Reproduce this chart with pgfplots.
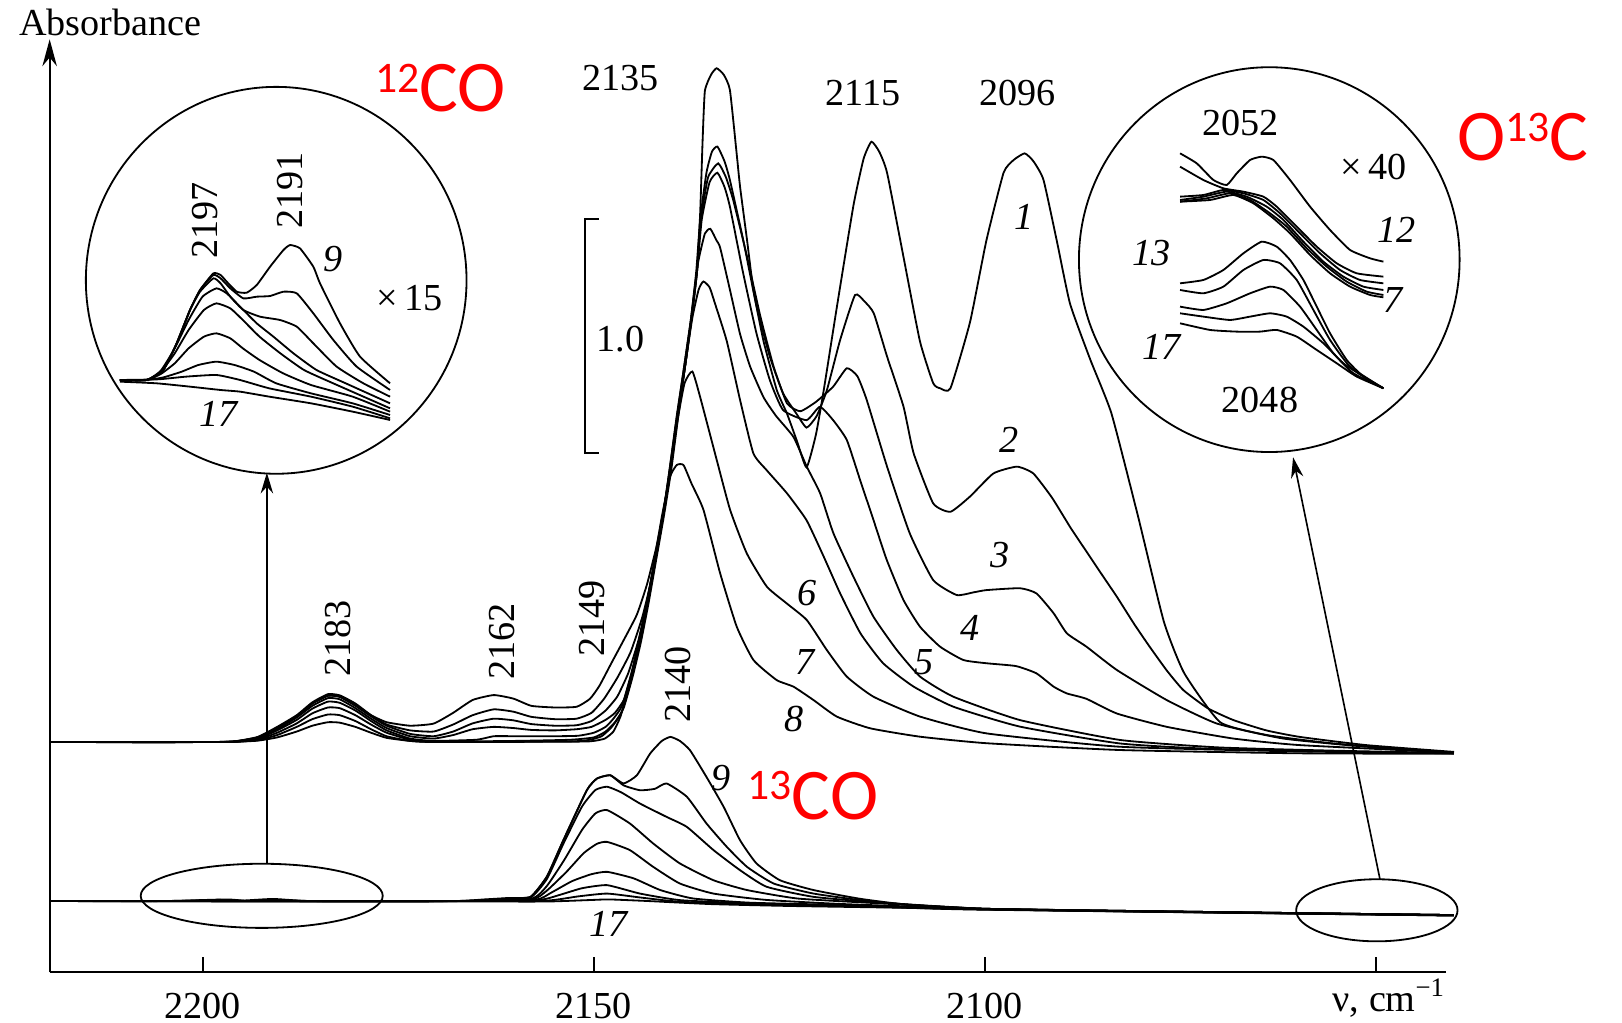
\documentclass[border=0pt]{standalone}
\usepackage{pgfplots}
\pgfplotsset{compat=1.18}
\usepackage{fontspec}
\setmainfont{Liberation Serif}
\newfontfamily\redfont{Carlito}
\usetikzlibrary{arrows.meta}
\newcommand{\lbl}{\fontsize{10.5}{12}\selectfont}
\begin{document}
\begin{tikzpicture}
\useasboundingbox (0,0) rectangle (15.68,9.88);
\pgfplotsset{spec/.style={black, line width=0.5pt, smooth, tension=0.3, mark=none}}
% ---------------- main axis ----------------
\begin{axis}[
  at={(0.48cm,0.48cm)}, anchor=south west, scale only axis,
  width=13.5cm, height=8.95cm,
  xmin=2041, xmax=2219.6, ymin=0, ymax=3.96, x dir=reverse,
  axis x line*=bottom, axis y line=none,
  x axis line style={line width=0.6pt},
  xtick={2050,2100,2150,2200},
  xticklabels={,\textrm{2100},\textrm{2150},\textrm{2200}},
  ytick=\empty,
  tick align=inside, major tick length=0.15cm,
  xtick style={black, line width=0.6pt},
  xticklabel style={font=\lbl, yshift=-0.8mm},
  clip=false,
]
% curve 1
\addplot[spec] coordinates {(2219.6,0.985) (2200,0.985) (2196,0.988) (2193,1.005) (2190.5,1.045) (2188,1.095) (2186,1.15) (2184,1.183) (2182.5,1.18) (2180.5,1.145) (2178.5,1.1) (2176.5,1.07) (2173.5,1.055) (2170.5,1.064) (2168,1.11) (2165.5,1.165) (2162.8,1.186) (2160.3,1.171) (2158,1.14) (2155,1.133) (2152.2,1.136) (2150.5,1.17) (2149.3,1.225) (2147.8,1.32) (2146.2,1.42) (2144.5,1.53) (2143.2,1.66) (2142.0,1.82) (2141.0,1.99) (2140.2,2.16) (2139.2,2.40) (2138.3,2.60) (2137.5,2.80) (2136.8,3.00) (2136.4,3.25) (2136.1,3.55) (2135.8,3.77) (2135.0,3.84) (2134.3,3.867) (2133.4,3.84) (2132.6,3.774) (2131.7,3.49) (2131.3,3.36) (2130.4,3.13) (2129.6,2.92) (2128.3,2.70) (2126.6,2.49) (2125.3,2.39) (2124.0,2.27) (2122.8,2.16) (2121.6,2.30) (2120.6,2.49) (2118.9,2.85) (2116.8,3.28) (2115.5,3.48) (2114.5,3.553) (2113.5,3.51) (2112.5,3.42) (2110.4,3.06) (2108.3,2.70) (2106.6,2.52) (2105.7,2.498) (2104.4,2.498) (2101.9,2.78) (2099.8,3.13) (2097.6,3.42) (2096.3,3.475) (2094.9,3.503) (2093.8,3.47) (2092.5,3.39) (2090.8,3.13) (2089.1,2.86) (2086.5,2.62) (2083.8,2.39) (2080.4,1.95) (2077.1,1.50) (2074.5,1.28) (2069.9,1.07) (2063.9,1.015) (2055.4,0.979) (2040,0.936)};
% curve 2
\addplot[spec] coordinates {(2219.6,0.985) (2200,0.985) (2196,0.988) (2193,1.007) (2190.5,1.05) (2188,1.10) (2186,1.155) (2184,1.19) (2182.5,1.185) (2180.5,1.15) (2178.5,1.10) (2176.5,1.06) (2173.5,1.035) (2170.5,1.03) (2168,1.06) (2165.5,1.10) (2162.8,1.125) (2160.3,1.115) (2158,1.093) (2155,1.083) (2152.2,1.085) (2150.3,1.11) (2148.7,1.17) (2147,1.26) (2145.3,1.37) (2143.8,1.52) (2142.5,1.70) (2141.3,1.92) (2140.4,2.13) (2139.4,2.38) (2138.5,2.58) (2137.6,2.79) (2136.9,3.0) (2136.4,3.22) (2135.6,3.42) (2134.9,3.51) (2134.2,3.532) (2133.3,3.47) (2132.6,3.389) (2130.9,3.133) (2129.2,2.85) (2127.5,2.634) (2125.8,2.477) (2124.1,2.39) (2122.8,2.33) (2121.5,2.38) (2120.2,2.49) (2118.5,2.705) (2116.6,2.897) (2115.4,2.87) (2114.2,2.819) (2112.5,2.634) (2110.4,2.42) (2109.1,2.22) (2106.6,2.006) (2104.4,1.970) (2101.9,2.035) (2098.9,2.134) (2095.9,2.163) (2093.8,2.134) (2091.4,2.03) (2089,1.90) (2087,1.80) (2085,1.70) (2083.1,1.606) (2080.9,1.49) (2078.9,1.392) (2076.7,1.29) (2074.6,1.207) (2071.5,1.13) (2068.2,1.079) (2064,1.035) (2059.7,1.007) (2051.2,0.972) (2040,0.943)};
% curve 3
\addplot[spec] coordinates {(2219.6,0.985) (2200,0.985) (2196,0.987) (2193,1.004) (2190.5,1.045) (2188,1.095) (2186,1.15) (2184,1.183) (2182.5,1.178) (2180.5,1.14) (2178.5,1.095) (2176.5,1.055) (2173.5,1.02) (2170.5,1.01) (2168,1.03) (2165.5,1.065) (2162.8,1.085) (2160.3,1.078) (2158,1.062) (2155,1.055) (2152.2,1.057) (2150.3,1.075) (2148.5,1.12) (2147,1.18) (2145.6,1.28) (2144.3,1.42) (2143.1,1.60) (2142.0,1.80) (2141.0,1.98) (2140.2,2.16) (2139.2,2.40) (2138.3,2.60) (2137.5,2.80) (2136.8,3.0) (2136.3,3.22) (2135.4,3.40) (2134.1,3.46) (2133.1,3.40) (2132.15,3.30) (2130.4,3.06) (2128.7,2.805) (2127.0,2.59) (2125.3,2.434) (2123.6,2.40) (2121.6,2.44) (2119.4,2.505) (2117.65,2.584) (2116.3,2.55) (2115.1,2.448) (2112.5,2.163) (2109.6,1.878) (2106.6,1.678) (2103.6,1.614) (2101.5,1.625) (2099.8,1.635) (2095.5,1.643) (2093.4,1.621) (2091.2,1.536) (2089.5,1.45) (2087,1.393) (2083.1,1.293) (2076.7,1.164) (2070.3,1.064) (2061.8,1.0) (2051.2,0.965) (2040,0.94)};
% curve 4
\addplot[spec] coordinates {(2219.6,0.985) (2200,0.985) (2196,0.987) (2193,1.003) (2190.5,1.04) (2188,1.09) (2186,1.14) (2184,1.173) (2182.5,1.168) (2180.5,1.13) (2178.5,1.085) (2176.5,1.045) (2173.5,1.01) (2170.5,1.0) (2168,1.015) (2165.5,1.04) (2162.8,1.05) (2160.3,1.045) (2158,1.037) (2155,1.035) (2152.2,1.04) (2150.3,1.05) (2148.5,1.08) (2147.3,1.11) (2146.1,1.17) (2145,1.30) (2144,1.45) (2143,1.62) (2142,1.80) (2141,1.98) (2140.2,2.16) (2139.2,2.40) (2138.3,2.60) (2137.5,2.80) (2136.8,3.0) (2136.2,3.22) (2135.2,3.38) (2134.2,3.42) (2133.3,3.36) (2132.6,3.275) (2130.9,2.99) (2129.2,2.733) (2127.5,2.534) (2125.8,2.405) (2122.8,2.362) (2121.1,2.419) (2119.4,2.362) (2117.65,2.277) (2115.95,2.106) (2114.24,1.935) (2112.54,1.764) (2110.41,1.593) (2108.28,1.478) (2105.72,1.393) (2102.74,1.336) (2099.75,1.322) (2096,1.31) (2093.4,1.279) (2091.2,1.222) (2089.5,1.193) (2087,1.17) (2083.1,1.107) (2076.7,1.05) (2068.2,1.0) (2059.7,0.972) (2040,0.94)};
% curve 5
\addplot[spec] coordinates {(2219.6,0.985) (2200,0.985) (2196,0.987) (2193,1.0) (2190.5,1.035) (2188,1.08) (2186,1.128) (2184,1.158) (2182.5,1.153) (2180.5,1.12) (2178.5,1.075) (2176.5,1.035) (2173.5,1.0) (2170.5,0.99) (2165,0.995) (2162.8,1.01) (2160,1.01) (2155,1.01) (2152,1.012) (2150,1.025) (2148.5,1.05) (2147.5,1.085) (2146.4,1.14) (2145.2,1.28) (2144.2,1.42) (2143.2,1.58) (2142.2,1.76) (2141.2,1.95) (2140.4,2.13) (2139.4,2.37) (2138.5,2.58) (2137.6,2.79) (2136.7,3.03) (2135.8,3.16) (2135.1,3.18) (2134.3,3.13) (2133.85,3.10) (2132.6,2.92) (2131.3,2.73) (2130,2.59) (2128.3,2.46) (2126.7,2.38) (2124.47,2.29) (2122.77,2.163) (2121.06,2.049) (2119.36,1.878) (2116.8,1.692) (2114.24,1.521) (2111.26,1.379) (2108.28,1.265) (2104.02,1.179) (2095.49,1.079) (2082.7,0.994) (2070,0.962) (2055,0.948) (2040,0.938)};
% curve 6
\addplot[spec] coordinates {(2219.6,0.985) (2200,0.985) (2196,0.986) (2193,0.996) (2190.5,1.025) (2188,1.065) (2186,1.108) (2184,1.133) (2182.5,1.13) (2180.5,1.10) (2178.5,1.06) (2176.5,1.025) (2173.5,0.995) (2170.5,0.987) (2160,0.99) (2153,0.995) (2150,1.005) (2148.5,1.03) (2147.3,1.07) (2146.2,1.13) (2145,1.27) (2144,1.41) (2143,1.58) (2142,1.77) (2141,1.96) (2140.1,2.15) (2139.2,2.38) (2138.3,2.6) (2137.4,2.80) (2136.6,2.92) (2136.0,2.955) (2135.2,2.93) (2134.5,2.86) (2133,2.70) (2131.3,2.448) (2129.6,2.22) (2127.9,2.148) (2125.3,2.049) (2122.8,1.934) (2120.6,1.778) (2118.5,1.621) (2115.9,1.45) (2113.0,1.322) (2109.1,1.222) (2104.0,1.136) (2095.5,1.051) (2082.7,0.979) (2070,0.955) (2040,0.937)};
% curve 7
\addplot[spec] coordinates {(2219.6,0.985) (2200,0.985) (2196,0.986) (2193,0.993) (2190.5,1.015) (2188,1.05) (2186,1.083) (2184,1.103) (2182.5,1.10) (2180.5,1.075) (2178.5,1.04) (2176.5,1.01) (2173.5,0.99) (2170,0.985) (2153,0.988) (2150.5,0.995) (2149,1.01) (2147.7,1.05) (2146.5,1.11) (2145.3,1.24) (2144.3,1.38) (2143.3,1.55) (2142.3,1.73) (2141.3,1.93) (2140.3,2.13) (2139.3,2.36) (2138.4,2.52) (2137.4,2.57) (2136.4,2.46) (2134.28,2.191) (2132.57,1.978) (2130.44,1.792) (2127.88,1.65) (2125.33,1.578) (2122.77,1.507) (2120.21,1.379) (2117.65,1.265) (2114.24,1.179) (2108.28,1.094) (2099.75,1.022) (2082.7,0.965) (2060,0.945) (2040,0.937)};
% curve 8
\addplot[spec] coordinates {(2219.6,0.985) (2200,0.985) (2196,0.986) (2193,0.991) (2190.5,1.005) (2188,1.03) (2186,1.055) (2184,1.07) (2182.5,1.068) (2180.5,1.05) (2178.5,1.025) (2176.5,1.003) (2173.5,0.99) (2170,0.985) (2152,0.987) (2150,0.99) (2148.6,1.0) (2147.5,1.03) (2146.6,1.094) (2145.5,1.22) (2144.5,1.379) (2143.4,1.55) (2142.4,1.735) (2141.3,1.95) (2140.25,2.12) (2139.4,2.17) (2138.54,2.17) (2137.5,2.09) (2135.98,1.978) (2133.85,1.707) (2131.72,1.478) (2129.59,1.336) (2126.61,1.25) (2124.47,1.222) (2121.92,1.165) (2118.93,1.094) (2114.67,1.044) (2108.28,1.008) (2099.75,0.98) (2082.7,0.951) (2060,0.937) (2040,0.935)};
% ---- 13CO curves 9-17 ----
\addplot[spec] coordinates {(2219.6,0.305) (2205,0.305) (2198,0.31) (2195,0.307) (2191,0.314) (2186,0.305) (2168,0.305) (2164,0.312) (2161,0.318) (2158.1,0.323) (2156,0.41) (2153.9,0.565) (2150.9,0.779) (2149.6,0.829) (2147.9,0.843) (2146.2,0.808) (2144.5,0.843) (2142.8,0.936) (2141.3,0.99) (2140.2,1.007) (2139,0.99) (2137.7,0.95) (2135.6,0.836) (2133.4,0.708) (2131.3,0.565) (2129.2,0.466) (2126.2,0.394) (2121.9,0.352) (2116,0.315) (2110,0.29) (2100,0.272) (2080,0.262) (2040,0.245)};
\addplot[spec] coordinates {(2219.6,0.305) (2205,0.305) (2197,0.312) (2194,0.305) (2190,0.31) (2186,0.305) (2168,0.305) (2164,0.31) (2161,0.316) (2158.1,0.323) (2156,0.41) (2153.9,0.565) (2150.9,0.779) (2149.6,0.829) (2147.9,0.843) (2146.2,0.80) (2144.1,0.779) (2142.2,0.785) (2140.7,0.808) (2138.1,0.751) (2135.6,0.637) (2133.0,0.537) (2130.4,0.451) (2127.0,0.38) (2121.9,0.337) (2115,0.305) (2108,0.285) (2100,0.272) (2080,0.262) (2040,0.245)};
\addplot[spec] coordinates {(2219.6,0.305) (2168,0.305) (2162,0.312) (2158.1,0.32) (2156,0.40) (2153.9,0.55) (2151.5,0.71) (2149.8,0.78) (2148.3,0.794) (2146.5,0.77) (2144.1,0.722) (2140.7,0.665) (2138.1,0.622) (2134.7,0.523) (2131.3,0.437) (2127.9,0.366) (2121.9,0.323) (2114,0.30) (2100,0.272) (2080,0.262) (2040,0.245)};
\addplot[spec] coordinates {(2219.6,0.305) (2166,0.305) (2158,0.315) (2156,0.37) (2153.8,0.48) (2151.5,0.61) (2149.8,0.68) (2148.3,0.694) (2145.4,0.637) (2142.4,0.551) (2139.0,0.466) (2134.7,0.394) (2130.4,0.352) (2124,0.316) (2115,0.298) (2100,0.272) (2080,0.262) (2040,0.245)};
\addplot[spec] coordinates {(2219.6,0.305) (2166,0.305) (2158,0.31) (2156,0.35) (2153.5,0.43) (2151.3,0.51) (2149.6,0.55) (2148.3,0.558) (2145.4,0.523) (2142.4,0.451) (2139.0,0.38) (2134.7,0.337) (2128,0.31) (2118,0.292) (2100,0.271) (2080,0.261) (2040,0.245)};
\addplot[spec] coordinates {(2219.6,0.305) (2166,0.305) (2157.5,0.31) (2155.5,0.34) (2152.8,0.39) (2150.3,0.42) (2148.3,0.43) (2144.9,0.402) (2141.5,0.352) (2137.3,0.316) (2130,0.298) (2118,0.288) (2100,0.27) (2080,0.26) (2040,0.244)};
\addplot[spec] coordinates {(2219.6,0.305) (2166,0.305) (2157,0.31) (2154.5,0.33) (2151.5,0.36) (2148.3,0.373) (2144.1,0.337) (2139,0.309) (2130,0.295) (2115,0.283) (2100,0.27) (2040,0.244)};
\addplot[spec] coordinates {(2219.6,0.305) (2166,0.305) (2156,0.307) (2152,0.325) (2148.3,0.337) (2144,0.32) (2139,0.302) (2130,0.292) (2115,0.281) (2100,0.269) (2040,0.243)};
\addplot[spec] coordinates {(2219.6,0.305) (2166,0.303) (2156,0.303) (2150,0.31) (2148,0.312) (2143,0.305) (2135,0.292) (2125,0.284) (2110,0.276) (2100,0.268) (2040,0.243)};
% scale bar 1.0
\addplot[black, line width=0.6pt, mark=none] coordinates {(2149.4,2.221) (2151.1,2.221) (2151.1,3.221) (2149.4,3.221)};
\end{axis}
% y axis with arrow
\draw[line width=0.6pt, -{Stealth[length=2.6mm,width=1.4mm]}] (0.48,0.48) -- (0.48,9.50);
% ---------------- left inset (x15) ----------------
\begin{axis}[
  at={(0.923cm,5.691cm)}, anchor=south west, scale only axis,
  width=3.091cm, height=1.933cm,
  xmin=2182, xmax=2205, ymin=-1.5, ymax=4.5, x dir=reverse,
  hide axis, clip=false,
]
\addplot[spec] coordinates {(2203.24,0.10) (2201.32,0.10) (2200.12,0.40) (2199.16,1.20) (2198.20,2.20) (2197.48,2.80) (2196.52,3.30) (2196.0,3.25) (2195.56,3.05) (2194.84,2.75) (2194.12,2.72) (2193.40,2.95) (2192.44,3.50) (2191.48,4.0) (2191.0,4.15) (2190.29,4.05) (2189.33,3.50) (2188.85,3.0) (2187.41,1.80) (2185.97,0.80) (2183.81,0.0)};
\addplot[spec] coordinates {(2203.24,0.10) (2201.32,0.10) (2200.12,0.40) (2199.16,1.20) (2198.20,2.20) (2197.48,2.80) (2196.52,3.25) (2196.0,3.15) (2195.3,2.85) (2194.36,2.55) (2193.40,2.60) (2192.44,2.62) (2191.48,2.75) (2190.52,2.70) (2189.33,2.10) (2187.89,1.30) (2186.21,0.50) (2183.81,-0.20)};
\addplot[spec] coordinates {(2203.24,0.10) (2201.32,0.10) (2200.12,0.40) (2199.16,1.20) (2198.20,2.20) (2197.48,2.75) (2196.52,3.15) (2196.0,3.0) (2195.3,2.6) (2194.36,2.20) (2193.16,2.00) (2191.72,1.90) (2190.52,1.70) (2189.33,1.20) (2187.65,0.50) (2185.73,0.0) (2183.81,-0.40)};
\addplot[spec] coordinates {(2203.24,0.10) (2201.32,0.10) (2200.3,0.38) (2199.3,1.05) (2198.3,1.90) (2197.3,2.60) (2196.3,2.85) (2195.56,2.70) (2194.6,2.30) (2193.4,1.80) (2192.2,1.40) (2190.76,0.90) (2189.1,0.40) (2187,0.0) (2183.81,-0.60)};
\addplot[spec] coordinates {(2203.24,0.10) (2201.32,0.10) (2200.3,0.35) (2199.3,0.90) (2198.3,1.60) (2197.2,2.20) (2196.3,2.40) (2195.3,2.25) (2194.4,1.90) (2193.2,1.40) (2191.7,0.90) (2190.0,0.40) (2187.9,0.0) (2183.81,-0.75)};
\addplot[spec] coordinates {(2203.24,0.10) (2201.32,0.10) (2200.3,0.28) (2199.3,0.60) (2198.3,1.05) (2197.2,1.40) (2196.3,1.50) (2195.3,1.35) (2194.4,1.05) (2193.2,0.70) (2191.5,0.30) (2189.5,-0.05) (2186.5,-0.40) (2183.81,-0.85)};
\addplot[spec] coordinates {(2203.24,0.10) (2201.32,0.10) (2200.1,0.18) (2198.8,0.35) (2197.6,0.55) (2196.3,0.65) (2195.0,0.55) (2193.6,0.35) (2192.0,0.0) (2189.5,-0.30) (2186.5,-0.60) (2183.81,-0.95)};
\addplot[spec] coordinates {(2203.24,0.10) (2200.5,0.12) (2198.5,0.20) (2196.3,0.25) (2194.6,0.10) (2192.5,-0.15) (2189.5,-0.40) (2186.5,-0.70) (2183.81,-1.05)};
\addplot[spec] coordinates {(2203.24,0.05) (2200.6,0.00) (2198.2,-0.10) (2196.0,-0.20) (2194.6,-0.25) (2192.5,-0.40) (2189.5,-0.60) (2186.5,-0.85) (2183.81,-1.10)};
\end{axis}
% ---------------- right inset (x40) ----------------
\begin{axis}[
  at={(11.311cm,6.078cm)}, anchor=south west, scale only axis,
  width=2.191cm, height=2.416cm,
  xmin=2040.25, xmax=2057.25, ymin=0, ymax=7.5, x dir=reverse,
  hide axis, clip=false,
]
\addplot[spec] coordinates {(2056.5,7.2) (2055.25,6.9) (2054.0,6.4) (2053.0,6.25) (2052.25,6.6) (2051.25,7.0) (2050.375,7.1) (2049.5,7.0) (2048.25,6.4) (2046.75,5.6) (2045.25,4.9) (2043.75,4.3) (2042.25,4.05) (2041.25,3.95)};
\addplot[spec] coordinates {(2056.5,6.8) (2054.75,6.4) (2053.25,6.15) (2051.75,6.05) (2050.25,5.9) (2049.25,5.6) (2047.75,5.0) (2046.25,4.4) (2044.75,3.9) (2043.25,3.6) (2041.25,3.5)};
\addplot[spec] coordinates {(2056.5,5.9) (2054.75,5.95) (2053.25,6.1) (2051.75,6.0) (2050.25,5.8) (2049.0,5.4) (2047.5,4.8) (2046.0,4.2) (2044.5,3.7) (2043.0,3.4) (2041.25,3.3)};
\addplot[spec] coordinates {(2056.5,5.8) (2054.75,5.9) (2053.0,6.05) (2051.5,5.9) (2050.0,5.6) (2048.75,5.2) (2047.25,4.55) (2045.75,3.95) (2044.25,3.5) (2042.75,3.2) (2041.25,3.1)};
\addplot[spec] coordinates {(2056.5,5.75) (2054.5,5.85) (2052.75,6.0) (2051.25,5.8) (2049.75,5.4) (2048.5,5.0) (2047.0,4.35) (2045.5,3.8) (2044.0,3.35) (2042.5,3.05) (2041.25,2.95)};
\addplot[spec] coordinates {(2056.5,5.75) (2054.25,5.8) (2052.5,5.95) (2051.0,5.7) (2049.5,5.25) (2048.25,4.8) (2046.75,4.15) (2045.25,3.6) (2043.75,3.2) (2042.25,2.95) (2041.25,2.88)};
\addplot[spec] coordinates {(2056.5,3.3) (2054.75,3.4) (2053.25,3.7) (2051.75,4.2) (2050.375,4.55) (2049.25,4.4) (2048.25,4.0) (2047.25,3.4) (2046.25,2.6) (2045.25,1.8) (2044.0,1.0) (2042.75,0.5) (2041.25,0.15)};
\addplot[spec] coordinates {(2056.5,3.1) (2054.75,3.0) (2053.25,3.2) (2051.75,3.7) (2050.25,4.0) (2049.0,3.9) (2047.75,3.4) (2046.5,2.5) (2045.25,1.6) (2043.75,0.8) (2041.25,0.15)};
\addplot[spec] coordinates {(2056.5,2.6) (2054.75,2.5) (2053.0,2.7) (2051.25,3.0) (2049.75,3.2) (2048.75,3.1) (2047.5,2.6) (2046.25,1.9) (2045.0,1.2) (2043.5,0.6) (2041.25,0.15)};
\addplot[spec] coordinates {(2056.5,2.4) (2054.75,2.3) (2052.75,2.2) (2051.25,2.3) (2049.75,2.4) (2048.5,2.3) (2047.25,2.0) (2045.75,1.5) (2044.25,0.9) (2042.75,0.5) (2041.25,0.15)};
\addplot[spec] coordinates {(2056.5,2.1) (2054.25,1.9) (2052.25,1.85) (2050.5,1.85) (2049.25,1.9) (2047.75,1.7) (2046.25,1.3) (2044.75,0.9) (2043.25,0.5) (2041.25,0.15)};
\end{axis}
% ---------------- circles, ellipses, arrows ----------------
\draw[line width=0.5pt] (2.67,7.17) ellipse [x radius=1.84, y radius=1.87];
\draw[line width=0.5pt] (12.27,7.37) ellipse [x radius=1.84, y radius=1.86];
\draw[line width=0.5pt] (2.53,1.22) ellipse [x radius=1.17, y radius=0.31];
\draw[line width=0.5pt] (13.31,1.08) ellipse [x radius=0.78, y radius=0.30];
\draw[line width=0.45pt, -{Stealth[length=2mm,width=1.2mm]}] (2.58,1.53) -- (2.58,5.31);
\draw[line width=0.45pt, -{Stealth[length=2mm,width=1.2mm]}] (13.34,1.38) -- (12.50,5.46);
% ---------------- text ----------------
\node[anchor=west, font=\lbl, inner sep=0] at (0.18,9.66) {Absorbance};
\node[font=\lbl] at (13.43,0.23) {ν, cm\textsuperscript{−1}};
\node[font=\lbl] at (6.00,9.13) {2135};
\node[font=\lbl] at (8.34,8.98) {2115};
\node[font=\lbl] at (9.84,8.98) {2096};
\node[font=\lbl] at (6.00,6.60) {1.0};
\node[font=\lbl\itshape] at (9.90,7.78) {1};
\node[font=\lbl\itshape] at (9.75,5.63) {2};
\node[font=\lbl\itshape] at (9.67,4.51) {3};
\node[font=\lbl\itshape] at (9.38,3.81) {4};
\node[font=\lbl\itshape] at (8.93,3.48) {5};
\node[font=\lbl\itshape] at (7.80,4.15) {6};
\node[font=\lbl\itshape] at (7.78,3.48) {7};
\node[font=\lbl\itshape] at (7.68,2.93) {8};
\node[font=\lbl\itshape] at (6.97,2.36) {9};
\node[font=\lbl\itshape] at (5.88,0.95) {17};
\node[font=\lbl, rotate=90] at (3.27,3.71) {2183};
\node[font=\lbl, rotate=90] at (4.85,3.68) {2162};
\node[font=\lbl, rotate=90] at (5.72,3.90) {2149};
\node[font=\lbl, rotate=90] at (6.55,3.26) {2140};
% left inset labels
\node[font=\lbl, rotate=90] at (1.98,7.75) {2197};
\node[font=\lbl, rotate=90] at (2.80,8.04) {2191};
\node[font=\lbl\itshape] at (3.22,7.38) {9};
\node[font=\lbl] at (3.96,7.00) {×\,15};
\node[font=\lbl\itshape] at (2.11,5.88) {17};
% right inset labels
\node[font=\lbl] at (11.99,8.69) {2052};
\node[font=\lbl] at (13.28,8.27) {×\,40};
\node[font=\lbl\itshape] at (13.50,7.66) {12};
\node[font=\lbl\itshape] at (11.13,7.43) {13};
\node[font=\lbl\itshape] at (13.47,6.98) {7};
\node[font=\lbl\itshape] at (11.23,6.53) {17};
\node[font=\lbl] at (12.18,6.01) {2048};
% red labels
\node[anchor=base west, inner sep=0, text=red, font=\redfont\fontsize{20}{24}\selectfont] at (3.62,8.80) {\raisebox{5.3pt}{\fontsize{12}{12}\selectfont 12}CO};
\node[anchor=base west, inner sep=0, text=red, font=\redfont\fontsize{20}{24}\selectfont] at (7.22,1.96) {\raisebox{5.3pt}{\fontsize{12}{12}\selectfont 13}CO};
\node[anchor=base west, inner sep=0, text=red, font=\redfont\fontsize{20}{24}\selectfont] at (14.08,8.33) {O\raisebox{5.3pt}{\fontsize{12}{12}\selectfont 13}C};
\end{tikzpicture}
\end{document}
